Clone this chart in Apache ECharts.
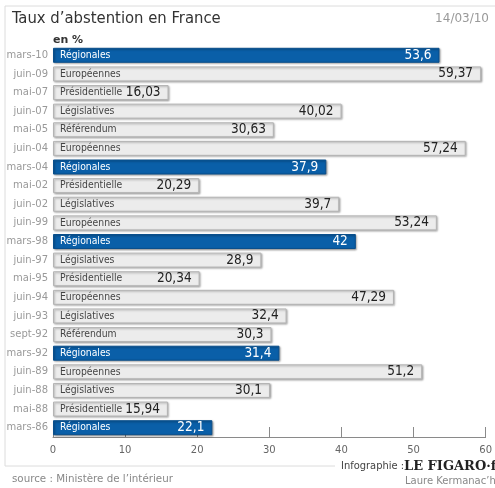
<!DOCTYPE html>
<html><head><meta charset="utf-8">
<script src="https://cdn.jsdelivr.net/npm/echarts@6/dist/echarts.min.js"></script>
<style>html,body{margin:0;padding:0;background:#fff}#c{width:495px;height:488px}</style>
</head><body><div id="c"></div>
<script>
const dates = ['mars-10','juin-09','mai-07','juin-07','mai-05','juin-04','mars-04','mai-02','juin-02','juin-99','mars-98','juin-97','mai-95','juin-94','juin-93','sept-92','mars-92','juin-89','juin-88','mai-88','mars-86'];
const types = ['Régionales','Européennes','Présidentielle','Législatives','Référendum','Européennes','Régionales','Présidentielle','Législatives','Européennes','Régionales','Législatives','Présidentielle','Européennes','Législatives','Référendum','Régionales','Européennes','Législatives','Présidentielle','Régionales'];
const values = [53.6,59.37,16.03,40.02,30.63,57.24,37.9,20.29,39.7,53.24,42,28.9,20.34,47.29,32.4,30.3,31.4,51.2,30.1,15.94,22.1];
const xTicks = [0,10,20,30,40,50,60];

const FONT = 'DejaVu Sans';
const CFONT = '"DejaVu Sans Condensed", "DejaVu Sans"';
const BLUE = '#0a5fa8';
const fmt = v => String(v).replace('.', ',');

const baseData = values.map((v,i) => {
  const blue = types[i] === 'Régionales';
  return {
    value: v,
    itemStyle: blue
      ? {color: BLUE, borderColor: '#0a4f8c', borderWidth: 1, shadowColor:'rgba(0,0,0,0.35)', shadowBlur:2, shadowOffsetX:1, shadowOffsetY:1}
      : {color: '#ececec', borderColor: '#b4b4b4', borderWidth: 1, shadowColor:'rgba(0,0,0,0.3)', shadowBlur:2, shadowOffsetX:1, shadowOffsetY:1},
    label: {color: blue ? '#fff' : '#444'}
  };
});
const valData = values.map((v,i) => ({
  value: v,
  label: {color: types[i] === 'Régionales' ? '#fff' : '#222'}
}));

const chart = echarts.init(document.getElementById('c'), null, {renderer:'canvas'});
chart.setOption({
  animation: false,
  grid: {left: 53, right: 7, top: 46, bottom: 51, containLabel: false},
  xAxis: {
    type: 'value', min: 0, max: 60, interval: 10,
    axisLine: {show: true, lineStyle: {color: '#8a8a8a'}},
    axisTick: {show: true, inside: true, length: 10, lineStyle: {color: '#8a8a8a'}},
    splitLine: {show: false},
    axisLabel: {color: '#666', fontFamily: FONT, fontSize: 10, margin: 8, formatter: v => xTicks.includes(v) ? String(v) : ''}
  },
  yAxis: {
    type: 'category', data: dates, inverse: true,
    axisLine: {show: false}, axisTick: {show: false},
    axisLabel: {color: '#999', fontFamily: FONT, fontSize: 10, margin: 5}
  },
  series: [
    {
      type: 'bar', barWidth: 15, data: baseData, z: 2,
      label: {show: true, position: 'insideLeft', distance: 7, fontFamily: CFONT, fontSize: 10.3,
        formatter: p => types[p.dataIndex]}
    },
    {
      type: 'bar', barWidth: 15, barGap: '-100%', data: valData, z: 3,
      itemStyle: {color: 'rgba(0,0,0,0)'},
      label: {show: true, position: 'insideRight', distance: 8, fontFamily: CFONT, fontSize: 13.5,
        formatter: p => fmt(p.value)}
    }
  ],
  graphic: [
    {type: 'polyline', shape: {points: [[335,466],[5,466],[5,6],[495,6]]}, style: {stroke: '#dcdcdc', lineWidth: 1, fill: null}, silent: true},
    {type: 'text', left: 12, top: 10, style: {text: 'Taux d\u2019abstention en France', font: '16.5px "DejaVu Sans Condensed", "DejaVu Sans"', fill: '#333'}},
    {type: 'text', left: 53, top: 35, style: {text: 'en %', font: 'bold 11px "DejaVu Sans"', fill: '#333'}},
    {type: 'text', right: 6, top: 13, style: {text: '14/03/10', font: '12px "DejaVu Sans"', fill: '#999'}},
    {type: 'text', left: 12, top: 474, style: {text: 'source : Ministère de l\u2019intérieur', font: '10.3px "DejaVu Sans"', fill: '#888'}},
    {type: 'text', left: 341, top: 461, style: {text: 'Infographie :', font: '11px "DejaVu Sans Condensed", "DejaVu Sans"', fill: '#444'}},
    {type: 'text', left: 404, top: 460, style: {text: 'LE FIGARO\u00b7fr', font: 'bold 13px "DejaVu Serif"', fill: '#222'}},
    {type: 'text', left: 405, top: 476, style: {text: 'Laure Kermanac\u2019h', font: '10px "DejaVu Sans"', fill: '#888'}}
  ]
});
</script></body></html>
